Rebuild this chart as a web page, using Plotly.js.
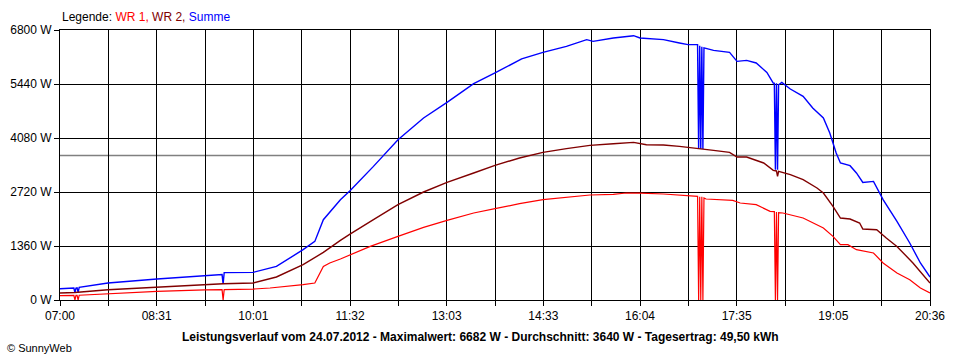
<!DOCTYPE html>
<html>
<head>
<meta charset="utf-8">
<script src="https://cdn.plot.ly/plotly-3.0.1.min.js"></script>
<style>html,body{margin:0;padding:0;background:#fff;}#chart{width:960px;height:360px;}</style>
</head>
<body>
<div id="chart"></div>
<script>
// ---- Data ----
const wr1Times = ['07:00','07:13','07:14','07:15','07:16','07:17','07:18','07:45','08:31','09:16','09:32','09:33','09:34','10:01','10:17','10:48','10:59','11:07','11:13','11:23','11:41','11:51','12:17','12:41','13:03','13:28','13:48','14:11','14:33','14:55','15:17','15:39','15:51','16:04','16:26','16:58','16:59','17:00','17:01','17:02','17:03','17:04','17:06','17:31','17:38','17:53','18:06','18:10','18:11','18:12','18:13','18:14','18:18','18:37','18:56','19:05','19:12','19:19','19:27','19:43','19:52','20:05','20:17','20:27','20:36'];
const wr1Values = [108,115,0,115,115,0,120,159,217,255,260,0,262,275,302,385,428,846,932,1033,1224,1350,1602,1829,2005,2191,2300,2426,2526,2584,2645,2660,2695,2690,2670,2609,0,2600,0,2600,0,2570,2544,2509,2443,2400,2232,2225,0,2215,0,2200,2191,2065,1814,1602,1393,1393,1267,1184,932,680,511,302,176];

const wr2Times = ['07:00','07:14','07:45','08:31','09:16','09:33','10:01','10:23','10:48','11:07','11:23','11:32','11:54','12:17','12:41','13:03','13:28','13:48','14:11','14:33','14:55','15:17','15:39','15:58','16:10','16:26','16:41','16:57','17:13','17:28','17:35','17:44','18:00','18:09','18:12','18:13','18:14','18:25','18:37','18:50','18:56','19:05','19:12','19:21','19:30','19:33','19:46','19:55','20:05','20:20','20:36'];
const wr2Values = [176,190,260,327,385,410,428,579,889,1199,1501,1660,2022,2400,2720,2962,3199,3390,3577,3718,3811,3894,3937,3970,3911,3903,3869,3828,3768,3718,3602,3602,3451,3265,3250,3115,3240,3156,3030,2821,2695,2358,2065,2040,1939,1788,1771,1562,1350,932,428];

const sumTimes = ['07:00','07:13','07:14','07:15','07:16','07:17','07:18','07:45','08:31','09:16','09:32','09:33','09:34','10:01','10:23','10:48','10:59','11:07','11:23','11:32','11:54','12:17','12:41','13:03','13:28','13:48','14:05','14:13','14:33','14:55','15:14','15:20','15:39','15:58','16:04','16:26','16:41','16:49','16:58','16:59','17:00','17:01','17:02','17:03','17:04','17:13','17:28','17:35','17:44','17:53','18:03','18:09','18:10','18:11','18:12','18:13','18:14','18:17','18:25','18:37','18:46','18:56','19:02','19:08','19:12','19:21','19:27','19:33','19:43','19:52','20:05','20:17','20:27','20:36'];
const sumValues = [282,300,190,300,305,190,320,428,529,612,640,403,690,695,846,1267,1476,2022,2526,2750,3365,4038,4585,4978,5448,5718,5970,6071,6237,6388,6557,6514,6600,6657,6600,6557,6474,6431,6431,3804,6400,3804,6380,3804,6350,6287,6237,6010,6035,5970,5733,5465,5460,3282,5460,3282,5420,5481,5314,5128,4837,4585,4207,3703,3451,3383,3199,2962,2987,2526,1980,1436,932,579];

const averageW = 3640;
const xTickLabels = ['07:00','','08:31','','10:01','','11:32','','13:03','','14:33','','16:04','','17:35','','19:05','','20:36'];
const yTickValues = [0,1360,2720,4080,5440,6800];
const yTickLabels = ['0 W','1360 W','2720 W','4080 W','5440 W','6800 W'];
const titleText = 'Leistungsverlauf vom 24.07.2012 - Maximalwert: 6682 W - Durchschnitt: 3640 W - Tagesertrag: 49,50 kWh';

// ---- Helpers ----
function toMin(s){ const p = s.split(':'); return (+p[0])*60 + (+p[1]); }
const xStart = toMin('07:00'), xEnd = toMin('20:36');
const xTickVals = xTickLabels.map((_, i) => xStart + (xEnd - xStart) * i / (xTickLabels.length - 1));

const traces = [
  {x: sumTimes.map(toMin), y: sumValues, mode:'lines', line:{color:'#0000FF', width:1.4}, name:'Summe'},
  {x: wr2Times.map(toMin), y: wr2Values, mode:'lines', line:{color:'#800000', width:1.4}, name:'WR 2'},
  {x: wr1Times.map(toMin), y: wr1Values, mode:'lines', line:{color:'#FF0000', width:1.2}, name:'WR 1'}
];

const font = {family:'Liberation Sans, Arial, sans-serif', size:11, color:'#000'};

const layout = {
  width:960, height:360,
  margin:{l:60, r:30, t:30, b:60, pad:0},
  paper_bgcolor:'#fff', plot_bgcolor:'#fff',
  showlegend:false,
  font: font,
  xaxis:{
    range:[xStart, xEnd], tickmode:'array', tickvals:xTickVals, ticktext:xTickLabels,
    showgrid:true, gridcolor:'#000', gridwidth:1,
    ticks:'outside', ticklen:5, tickcolor:'#000', tickwidth:1,
    showline:true, linecolor:'#000', linewidth:1, mirror:true,
    zeroline:false, fixedrange:true, tickfont:{family:'Liberation Sans, Arial, sans-serif', size:12, color:'#000'}
  },
  yaxis:{
    range:[0, 6800], tickmode:'array', tickvals:yTickValues, ticktext:yTickLabels,
    showgrid:true, gridcolor:'#000', gridwidth:1,
    ticks:'outside', ticklen:5, tickcolor:'#000', tickwidth:1,
    showline:true, linecolor:'#000', linewidth:1, mirror:true,
    zeroline:false, fixedrange:true, tickfont:{family:'Liberation Sans, Arial, sans-serif', size:12, color:'#000'}
  },
  shapes:[
    {type:'line', xref:'paper', x0:0, x1:1, yref:'y', y0:averageW, y1:averageW, line:{color:'#808080', width:1.5}, layer:'below'}
  ],
  annotations:[
    {text:'Legende: <span style="color:#FF0000">WR 1,</span> <span style="color:#800000">WR 2,</span> <span style="color:#0000FF">Summe</span>',
     xref:'paper', yref:'paper', x:0, y:1.048, xanchor:'left', yanchor:'middle', showarrow:false,
     font:{family:'Liberation Sans, Arial, sans-serif', size:12, color:'#000'}},
    {text:'<b>'+titleText+'</b>', xref:'paper', yref:'paper', x:0.483, y:-0.137, xanchor:'center', yanchor:'middle', showarrow:false,
     font:{family:'Liberation Sans, Arial, sans-serif', size:12, color:'#000'}},
    {text:'© SunnyWeb', xref:'paper', yref:'paper', x:-0.063, y:-0.178, xanchor:'left', yanchor:'middle', showarrow:false,
     font:{family:'Liberation Sans, Arial, sans-serif', size:11, color:'#000'}}
  ]
};

Plotly.newPlot('chart', traces, layout, {displayModeBar:false, staticPlot:true});
</script>
</body>
</html>
